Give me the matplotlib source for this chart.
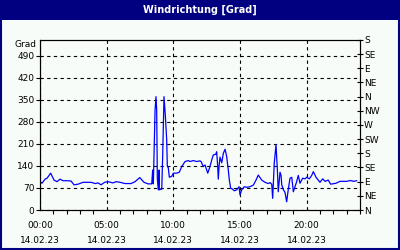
import matplotlib
matplotlib.use('Agg')
import matplotlib.pyplot as plt
from matplotlib.patches import Rectangle
from matplotlib.ticker import MultipleLocator

# Data (hours since 00:00, wind direction in degrees)
hours = [0.00, 0.15, 0.38, 0.53, 0.80, 1.05, 1.28, 1.50, 1.73, 2.10, 2.33, 2.55, 2.85, 3.23, 3.83,
         4.13, 4.35, 4.58, 4.85, 5.10, 5.48, 5.70, 6.00, 6.38, 6.83, 7.13, 7.48, 7.80, 8.10, 8.38,
         8.45, 8.50, 8.63, 8.70, 8.75, 8.80, 8.87, 8.93, 8.95, 9.05, 9.13, 9.20, 9.30, 9.40, 9.50,
         9.55, 9.62, 9.70, 9.88, 10.00, 10.25, 10.45, 10.63, 10.88, 11.12, 11.25, 11.50, 11.75, 12.00,
         12.08, 12.25, 12.38, 12.50, 12.58, 12.75, 12.88, 13.00, 13.18, 13.25, 13.33, 13.37, 13.43,
         13.50, 13.63, 13.75, 13.88, 14.00, 14.12, 14.20, 14.30, 14.42, 14.57, 14.75, 14.93, 15.00,
         15.13, 15.32, 15.50, 15.75, 16.00, 16.20, 16.37, 16.50, 16.63, 16.88, 17.12, 17.25, 17.38,
         17.45, 17.50, 17.57, 17.70, 17.80, 17.87, 18.00, 18.08, 18.13, 18.25, 18.38, 18.50, 18.62,
         18.75, 18.88, 19.00, 19.13, 19.25, 19.37, 19.50, 19.63, 19.70, 19.88, 20.00, 20.20, 20.38,
         20.50, 20.70, 20.87, 21.00, 21.20, 21.38, 21.62, 21.80, 21.95, 22.20, 22.50, 23.00, 23.20,
         23.38, 23.50, 23.75]
direction = [90, 85, 98, 101, 117, 95, 90, 98, 93, 93, 92, 80, 82, 88, 88,
             84, 86, 80, 88, 90, 86, 90, 88, 84, 84, 90, 103, 88, 83, 83,
             127, 83, 318, 360, 318, 100, 64, 127, 64, 66, 66, 170, 360, 300, 225,
             138, 135, 104, 107, 117, 117, 120, 138, 154, 157, 154, 157, 154, 156,
             154, 138, 143, 128, 117, 138, 159, 175, 177, 185, 138, 98, 138,
             168, 150, 180, 193, 170, 128, 95, 69, 67, 61, 64, 74, 48,
             64, 74, 72, 74, 79, 95, 111, 103, 95, 88, 84, 87, 82,
             37, 82, 149, 207, 130, 58, 120, 110, 80, 65, 55, 26, 65,
             101, 104, 58, 75, 90, 110, 85, 95, 101, 99, 104, 99, 110,
             122, 104, 95, 88, 99, 91, 95, 82, 83, 85, 91, 91, 93,
             93, 91, 93]

xtick_pos = [0, 5, 10, 15, 20]
xtick_labels = ['00:00\n14.02.23', '05:00\n14.02.23', '10:00\n14.02.23',
                '15:00\n14.02.23', '20:00\n14.02.23']
left_ticks = [0, 70, 140, 210, 280, 350, 420, 490]
right_labels = ['N', 'NE', 'E', 'SE', 'S', 'SW', 'W', 'NW', 'N', 'NE', 'E', 'SE', 'S']

navy = '#000080'
bg = '#f8fcf8'
fs = 6.5

fig = plt.figure(figsize=(4, 2.5), dpi=100, facecolor=bg)
# title bar and frame
fig.patches.append(Rectangle((0, 1 - 20 / 250), 1, 20 / 250, transform=fig.transFigure,
                             facecolor=navy, edgecolor='none', zorder=0))
fig.patches.append(Rectangle((0.002, 0.003), 0.995, 0.995, transform=fig.transFigure,
                             facecolor='none', edgecolor=navy, linewidth=1.5, zorder=1))
fig.text(0.5, 1 - 10 / 250, 'Windrichtung [Grad]', color='white', fontsize=7,
         fontweight='bold', ha='center', va='center')

ax = fig.add_axes([40 / 400, 40 / 250, 320 / 400, 170 / 250])
ax.set_facecolor(bg)
ax.plot(hours, direction, color='#0000ff', linewidth=0.9)

ax.set_xlim(0, 24)
ax.set_ylim(0, 540)
ax.set_xticks(xtick_pos)
ax.set_xticklabels(xtick_labels, fontsize=fs, linespacing=1.9)
ax.xaxis.set_minor_locator(MultipleLocator(1))
ax.set_yticks(left_ticks)
ax.set_yticklabels([str(v) for v in left_ticks], fontsize=fs)
ax.tick_params(axis='x', which='major', length=0, pad=8)
ax.tick_params(axis='x', which='minor', length=3, direction='out', width=0.8)
ax.tick_params(axis='y', length=3, direction='out', width=0.8, pad=1)

ax.grid(True, which='major', color='black', linestyle=(0, (3, 3)), linewidth=0.8)
for sp in ax.spines.values():
    sp.set_linewidth(0.8)

ax2 = ax.twinx()
ax2.set_ylim(0, 540)
ax2.set_yticks(range(0, 541, 45))
ax2.set_yticklabels(right_labels, fontsize=fs)
ax2.tick_params(axis='y', length=4, direction='inout', width=0.8, pad=1)

ax.text(-0.01, 525, 'Grad', transform=ax.get_yaxis_transform(), fontsize=fs,
        ha='right', va='center')

fig.savefig('out.png', dpi=100, facecolor=bg)
